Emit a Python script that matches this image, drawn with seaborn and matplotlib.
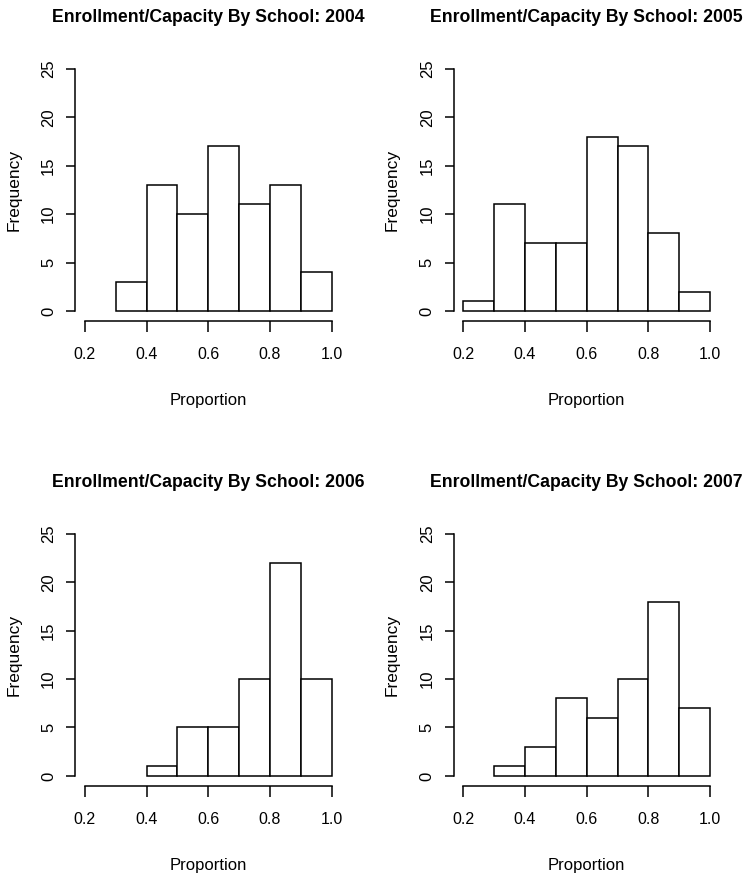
import numpy as np
import seaborn as sns
import matplotlib.pyplot as plt

# histogram bin edges and counts
years = [2004, 2005, 2006, 2007]

breaks_2004 = [0.3, 0.4, 0.5, 0.6, 0.7, 0.8, 0.9, 1.0]
counts_2004 = [3, 13, 10, 17, 11, 13, 4]

breaks_2005 = [0.2, 0.3, 0.4, 0.5, 0.6, 0.7, 0.8, 0.9, 1.0]
counts_2005 = [1, 11, 7, 7, 18, 17, 8, 2]

breaks_2006 = [0.4, 0.5, 0.6, 0.7, 0.8, 0.9, 1.0]
counts_2006 = [1, 5, 5, 10, 22, 10]

breaks_2007 = [0.3, 0.4, 0.5, 0.6, 0.7, 0.8, 0.9, 1.0]
counts_2007 = [1, 3, 8, 6, 10, 18, 7]

x_ticks = [0.2, 0.4, 0.6, 0.8, 1.0]
x_tick_labels = ["0.2", "0.4", "0.6", "0.8", "1.0"]
y_ticks = [0, 5, 10, 15, 20, 25]

panels = [
    (2004, breaks_2004, counts_2004),
    (2005, breaks_2005, counts_2005),
    (2006, breaks_2006, counts_2006),
    (2007, breaks_2007, counts_2007),
]

sns.set_style("ticks")
plt.rcParams["font.family"] = ["Liberation Sans", "DejaVu Sans"]
plt.rcParams["text.color"] = "black"
plt.rcParams["axes.labelcolor"] = "black"

fig = plt.figure(figsize=(7.45, 8.77), dpi=100)

# axes boxes in figure fractions (left, bottom, width, height)
W, H = 0.3576, 0.2985
boxes = [
    (75 / 745, 0.6340, W, H),
    (453.5 / 745, 0.6340, W, H),
    (75 / 745, 0.1038, W, H),
    (453.5 / 745, 0.1038, W, H),
]

for (year, breaks, counts), box in zip(panels, boxes):
    ax = fig.add_axes(box)
    b = np.array(breaks)
    mids = (b[:-1] + b[1:]) / 2
    sns.histplot(x=mids, weights=counts, bins=breaks, ax=ax,
                 color="white", edgecolor="black", linewidth=1.1, alpha=1)

    ax.set_xlim(0.168, 1.032)
    ax.set_ylim(-1.04, 26)
    sns.despine(ax=ax)
    ax.spines["left"].set_bounds(0, 25)
    ax.spines["bottom"].set_bounds(0.2, 1.0)
    for s in ["left", "bottom"]:
        ax.spines[s].set_linewidth(1.1)
        ax.spines[s].set_color("black")

    ax.set_xticks(x_ticks)
    ax.set_xticklabels(x_tick_labels, fontsize=11.5)
    ax.set_yticks(y_ticks)
    ax.set_yticklabels([str(v) for v in y_ticks], fontsize=12,
                       rotation=90, va="center")
    ax.tick_params(axis="x", length=8, width=1.1, pad=11, colors="black")
    ax.tick_params(axis="y", length=6.5, width=1.1, pad=7, colors="black")

    ax.set_xlabel("Proportion", fontsize=12)
    ax.xaxis.set_label_coords(0.5, -0.275)
    ax.xaxis.label.set_va("top")
    ax.set_ylabel("Frequency", fontsize=12.5)
    ax.yaxis.set_label_coords(-0.201, 0.5)

    ax.set_title(f"Enrollment/Capacity By School: {year}",
                 fontsize=12.7, fontweight="bold", pad=27)

fig.savefig("out.png", dpi=100, facecolor="white")
